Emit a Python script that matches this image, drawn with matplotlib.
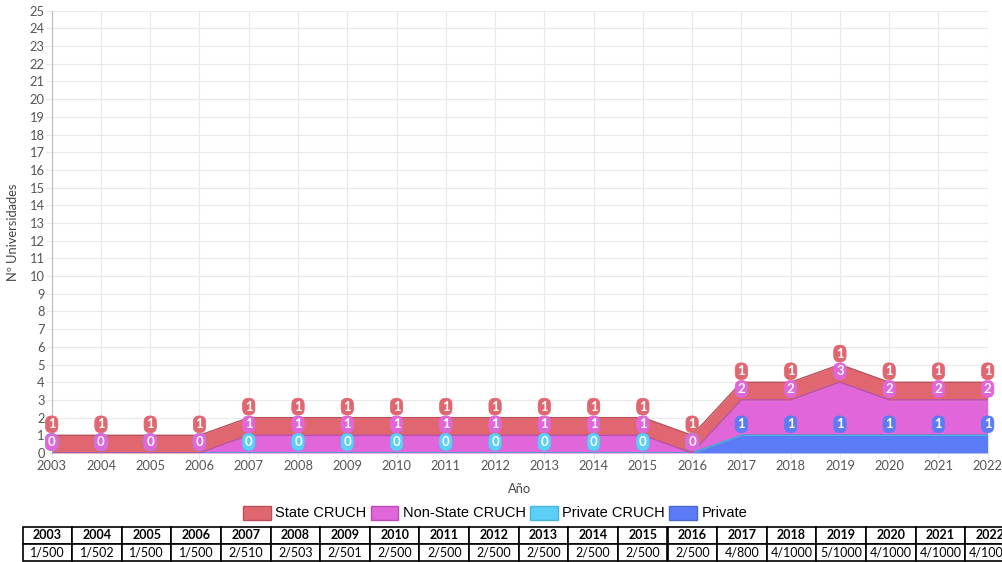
import numpy as np
import matplotlib
matplotlib.use("Agg")
import matplotlib.pyplot as plt
from matplotlib.patches import Patch

# datos
years = list(range(2003, 2023))
state_cruch = [1, 1, 1, 1, 1, 1, 1, 1, 1, 1, 1, 1, 1, 1, 1, 1, 1, 1, 1, 1]
non_state_cruch = [0, 0, 0, 0, 1, 1, 1, 1, 1, 1, 1, 1, 1, 0, 2, 2, 3, 2, 2, 2]
private_cruch = [0, 0, 0, 0, 0, 0, 0, 0, 0, 0, 0, 0, 0, 0, None, None, None, None, None, None]
private = [0, 0, 0, 0, 0, 0, 0, 0, 0, 0, 0, 0, 0, 0, 1, 1, 1, 1, 1, 1]
table_values = ["1/500", "1/502", "1/500", "1/500", "2/510", "2/503", "2/501", "2/500",
                "2/500", "2/500", "2/500", "2/500", "2/500", "2/500", "4/800", "4/1000",
                "5/1000", "4/1000", "4/1000", "4/1000"]

series_names = ["Private", "Private CRUCH", "Non-State CRUCH", "State CRUCH"]
series_data = [private, private_cruch, non_state_cruch, state_cruch]
colors = ["#5b7cf6", "#5bcff6", "#e066d9", "#e06670"]
edges = ["#4a66d0", "#45b5dc", "#b84fb2", "#b8505a"]

W, H = 1002, 562
fig = plt.figure(figsize=(W / 100, H / 100), dpi=100)
ax = fig.add_axes([51.7 / W, 109 / H, 936 / W, 442.3 / H])

x = np.array(years)
base = np.zeros(len(years))
tops = []
for vals, c, e in zip(series_data, colors, edges):
    v = np.array([0 if a is None else a for a in vals], dtype=float)
    top = base + v
    ax.fill_between(x, base, top, color=c, lw=0, zorder=2)
    ax.plot(x, top, color=e, lw=1, zorder=3)
    tops.append(top)
    base = top

# etiquetas
for vals, top, c in zip(series_data, tops, colors):
    for xi, vi, ti in zip(years, vals, top):
        if vi is None:
            continue
        ax.annotate(str(vi), (xi, ti), xytext=(0, 11), textcoords="offset pixels",
                    ha="center", va="center", color="white", fontsize=9.5,
                    fontweight="bold", family="Lato", zorder=5,
                    bbox=dict(boxstyle="round,pad=0.18,rounding_size=0.45",
                              fc=c, ec=c, lw=0.5))

ax.set_xlim(2003, 2022)
ax.set_ylim(0, 25)
ax.set_xticks(years)
ax.set_yticks(range(0, 26))
ax.grid(True, color="#e9e9e9", lw=0.8, zorder=0)
ax.tick_params(labelsize=9.3, colors="#555555", length=4, width=0.8, pad=1)
for lab in ax.get_xticklabels() + ax.get_yticklabels():
    lab.set_family("Lato")
ax.tick_params(axis="both", color="#e9e9e9")
for s in ["top", "right", "bottom"]:
    ax.spines[s].set_visible(False)
ax.spines["left"].set_color("#bbbbbb")
ax.set_ylabel("Nº Universidades", family="Lato", fontsize=9.3, color="#444444", labelpad=8)
ax.set_xlabel("Año", family="Lato", fontsize=9.3, color="#444444", labelpad=8)

handles = [Patch(facecolor=c, edgecolor=e, lw=1) for c, e in zip(colors[::-1], edges[::-1])]
fig.legend(handles, series_names[::-1], loc="center", bbox_to_anchor=(495 / W, 1 - 513 / H),
           ncol=4, frameon=False, prop={"family": "Liberation Sans", "size": 10.5},
           handlelength=1.9, handleheight=1.1, handletextpad=0.3, columnspacing=0.3)

# tabla
tax = fig.add_axes([22.7 / W, 1.3 / H, 49.6 * 20 / W, 34 / H])
tax.axis("off")
tbl = tax.table(cellText=[[str(y) for y in years], table_values], cellLoc="center",
                bbox=[0, 0, 1, 1])
tbl.auto_set_font_size(False)
for (r, c), cell in tbl.get_celld().items():
    cell.set_edgecolor("black")
    cell.set_linewidth(1.2)
    cell.set_text_props(family="Lato", fontsize=9, color="black",
                        fontweight="bold" if r == 0 else "normal")

fig.savefig("out.png", dpi=100)
